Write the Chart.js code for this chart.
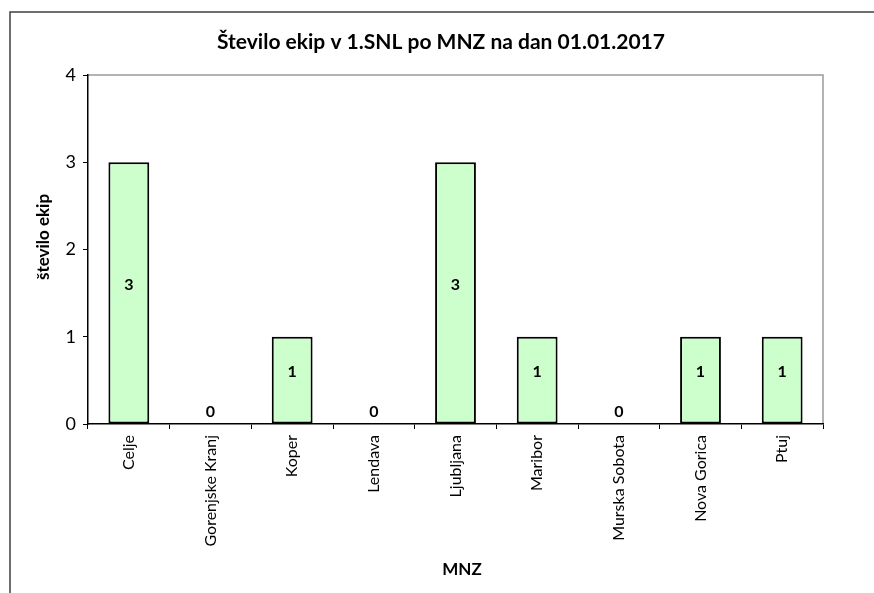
<!DOCTYPE html>
<html>
<head>
<meta charset="utf-8">
<script src="https://cdn.jsdelivr.net/npm/chart.js@4"></script>
<style>
  html, body { margin: 0; padding: 0; background: #fff; }
  #wrap { width: 874px; height: 593px; position: relative; }
</style>
</head>
<body>
<div id="wrap"><canvas id="c" width="874" height="593"></canvas></div>
<script>
const categories = ["Celje", "Gorenjske Kranj", "Koper", "Lendava", "Ljubljana", "Maribor", "Murska Sobota", "Nova Gorica", "Ptuj"];
const teamCounts = [3, 0, 1, 0, 3, 1, 0, 1, 1];
const yTicks = [0, 1, 2, 3, 4];
const chartTitle = "Število ekip v 1.SNL po MNZ na dan 01.01.2017";
const yTitle = "število ekip";
const xTitle = "MNZ";

const FONT = "Lato, 'Open Sans', sans-serif";

const decor = {
  id: 'decor',
  beforeDraw(chart) {
    const ctx = chart.ctx;
    const a = chart.chartArea;
    ctx.save();
    ctx.fillStyle = '#fff';
    ctx.fillRect(0, 0, chart.width, chart.height);
    ctx.strokeStyle = '#404040';
    ctx.lineWidth = 1.5;
    ctx.beginPath();
    ctx.moveTo(10, 593);
    ctx.lineTo(10, 12);
    ctx.lineTo(874, 12);
    ctx.stroke();
    ctx.strokeStyle = '#9a9a9a';
    ctx.lineWidth = 1.5;
    ctx.beginPath();
    ctx.moveTo(a.left, a.top);
    ctx.lineTo(a.right, a.top);
    ctx.lineTo(a.right, a.bottom);
    ctx.stroke();
    ctx.restore();
  },
  afterDraw(chart) {
    const ctx = chart.ctx;
    ctx.save();
    ctx.fillStyle = '#000';
    ctx.textAlign = 'center';
    ctx.textBaseline = 'middle';
    ctx.font = "bold 21px " + FONT;
    ctx.fillText(chartTitle, 441, 42);
    ctx.font = "bold 17px " + FONT;
    ctx.fillText(xTitle, 462, 570);
    ctx.translate(44, 237);
    ctx.rotate(-Math.PI / 2);
    ctx.fillText(yTitle, 0, 0);
    ctx.restore();

    const meta = chart.getDatasetMeta(0);
    ctx.save();
    ctx.font = "bold 16px " + FONT;
    ctx.fillStyle = '#000';
    ctx.textAlign = 'center';
    ctx.textBaseline = 'middle';
    meta.data.forEach((bar, i) => {
      const v = teamCounts[i];
      let y;
      if (v === 0) {
        y = bar.base - 12;
      } else {
        y = (bar.y + bar.base) / 2 - 8;
      }
      ctx.fillText(String(v), bar.x, y);
    });
    ctx.restore();
  }
};

new Chart(document.getElementById('c'), {
  type: 'bar',
  data: {
    labels: categories,
    datasets: [{
      data: teamCounts,
      backgroundColor: '#CCFFCC',
      borderColor: '#000',
      borderWidth: 2,
      borderSkipped: false,
      barPercentage: 0.5,
      categoryPercentage: 1.0
    }]
  },
  options: {
    responsive: false,
    animation: false,
    devicePixelRatio: 1,
    layout: { padding: { left: 0, top: 75, right: 51, bottom: 0 } },
    plugins: {
      legend: { display: false },
      title: { display: false },
      tooltip: { enabled: false }
    },
    scales: {
      x: {
        type: 'category',
        offset: true,
        grid: {
          offset: true,
          drawOnChartArea: false,
          drawTicks: true,
          tickLength: 5,
          color: '#000',
          tickColor: '#000'
        },
        border: { display: true, color: '#000', width: 1.5 },
        ticks: {
          color: '#000',
          font: { family: FONT, size: 16 },
          minRotation: 90,
          maxRotation: 90,
          padding: 6,
          autoSkip: false
        },
        afterFit(scale) { scale.height = 593 - 424; }
      },
      y: {
        min: 0,
        max: 4,
        afterBuildTicks(scale) { scale.ticks = yTicks.map(v => ({ value: v })); },
        grid: {
          drawOnChartArea: false,
          drawTicks: true,
          tickLength: 5,
          color: '#000',
          tickColor: '#000'
        },
        border: { display: true, color: '#000', width: 1.5 },
        ticks: {
          color: '#000',
          font: { family: FONT, size: 18 },
          padding: 7
        },
        afterFit(scale) { scale.width = 88; }
      }
    }
  },
  plugins: [decor]
});
</script>
</body>
</html>
